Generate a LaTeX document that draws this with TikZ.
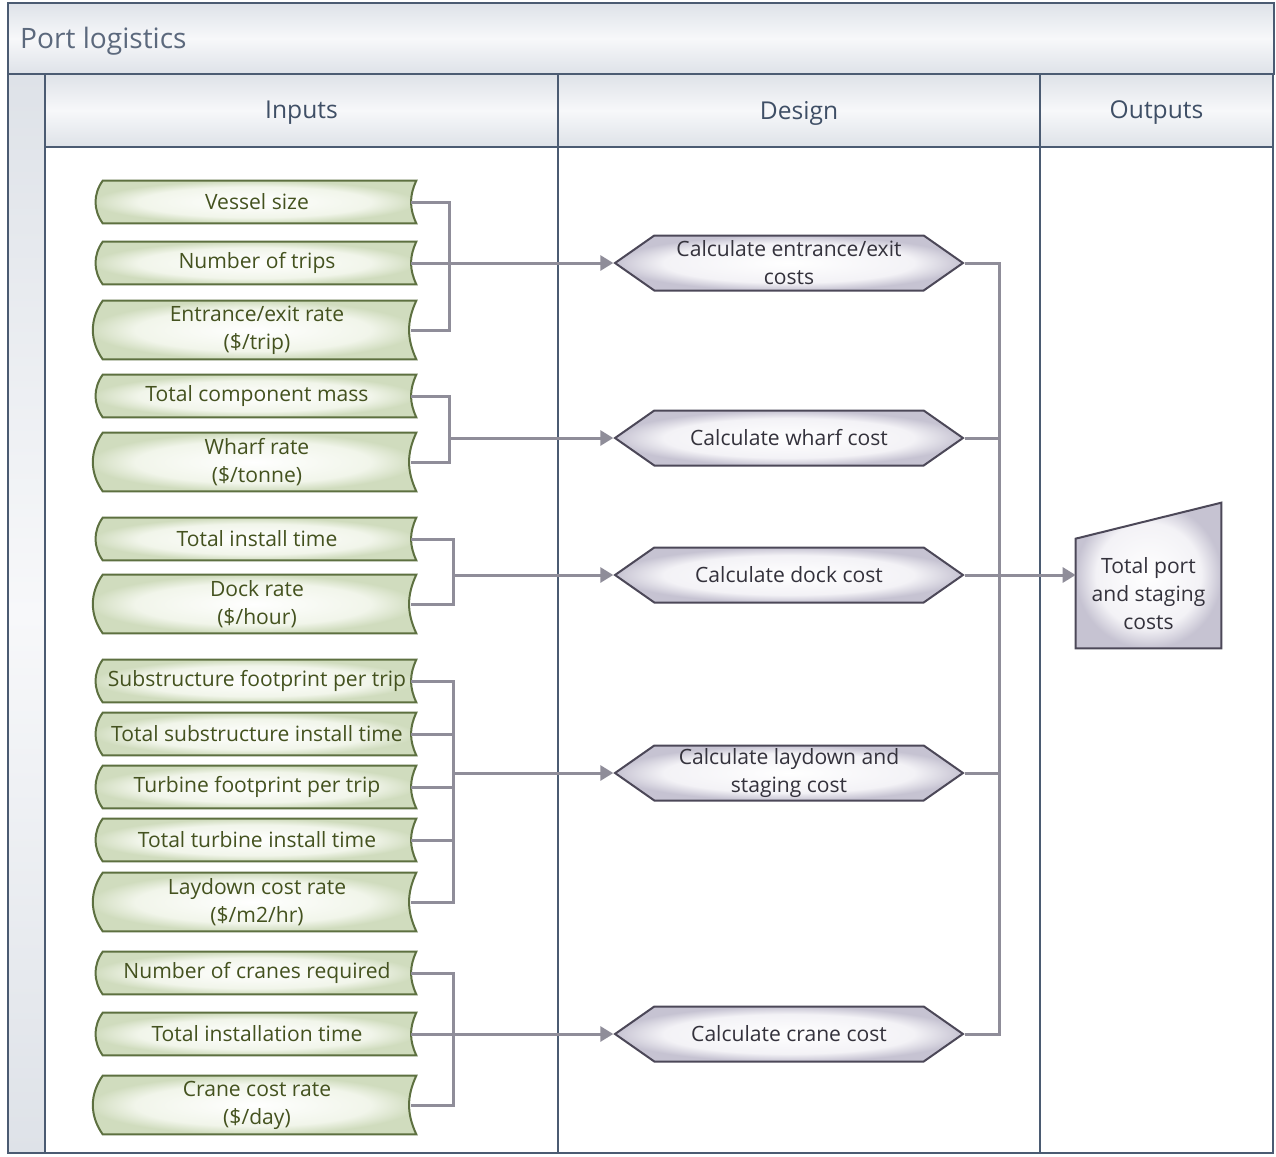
\documentclass[tikz,border=0pt]{standalone}
\usepackage{fontspec}
\setmainfont{Open Sans}
\usepackage{tikz}
\usetikzlibrary{positioning}
\usetikzlibrary{calc}
\usetikzlibrary{backgrounds}
\usetikzlibrary{shapes.symbols}
\usetikzlibrary{arrows.meta}
\definecolor{framecol}{HTML}{4B5B72}
\definecolor{headfill}{HTML}{F7F8FA}
\definecolor{headedge}{HTML}{DEE2E8}
\definecolor{headtext}{HTML}{3F4F66}
\definecolor{inborder}{HTML}{5D7040}
\definecolor{inmid}{HTML}{F1F5EA}
\definecolor{inedge}{HTML}{D0DCBE}
\definecolor{intext}{HTML}{44521F}
\definecolor{hexborder}{HTML}{4C4858}
\definecolor{hexmid}{HTML}{F3F2F6}
\definecolor{hexedge}{HTML}{C6C3D2}
\definecolor{hextext}{HTML}{34323C}
\definecolor{linkcol}{HTML}{8F8D99}
\pgfdeclareradialshading{greenglow}{\pgfpoint{0bp}{0bp}}{%
    color(0bp)=(white); color(18bp)=(inmid); color(25bp)=(inedge); color(50bp)=(inedge)}
\pgfdeclareradialshading{greyglow}{\pgfpoint{0bp}{0bp}}{%
    color(0bp)=(white); color(18bp)=(hexmid); color(25bp)=(hexedge); color(50bp)=(hexedge)}
\tikzset{
    port diagram/.style={
            x=0.02cm,y=-0.02cm,
            inbox/.style={minimum width=6.16cm,minimum height=0.84cm,inner sep=0pt,
                align=center,text=intext,font=\fontsize{12}{16}\selectfont},
            inboxtall/.style={inbox,minimum height=1.16cm},
            inshape/.style={draw=inborder,line width=0.04cm,shading=greenglow},
            calcbox/.style={signal,signal to=west and east,signal pointer angle=70,
                draw=hexborder,line width=0.04cm,shading=greyglow,
                minimum width=6.96cm,minimum height=1.1cm,inner sep=0pt,
                align=center,text=hextext,font=\fontsize{12}{16}\selectfont},
            outbox/.style={minimum width=2.9cm,minimum height=2.18cm,inner sep=0pt,
                align=center,text=hextext,font=\fontsize{12}{16}\selectfont},
            outshape/.style={draw=hexborder,line width=0.04cm,shading=greyglow},
            headcell/.style={draw=framecol,line width=0.04cm,top color=headedge,
                bottom color=headedge,middle color=headfill},
            bodycell/.style={draw=framecol,line width=0.04cm,fill=white},
            link/.style={draw=linkcol,line width=0.06cm},
            arrow/.style={link,-{Triangle[length=0.26cm,width=0.3cm]}}
        }
    }
\begin{document}
\begin{tikzpicture}[port diagram]
    \useasboundingbox (0,0) rectangle (1276,1157);
    % swimlane frame
    \begin{scope}[on background layer]
        \draw [headcell] (8,3) rectangle (1274,74);
        \draw [headcell] (8,74) rectangle (45,1153);
        \draw [headcell] (45,74) rectangle (558,147);
        \draw [headcell] (558,74) rectangle (1040,147);
        \draw [headcell] (1040,74) rectangle (1273,147);
        \draw [bodycell] (45,147) rectangle (558,1153);
        \draw [bodycell] (558,147) rectangle (1040,1153);
        \draw [bodycell] (1040,147) rectangle (1273,1153);
    \end{scope}
    \node (title) [anchor=west,text=headtext!85,font=\fontsize{16}{18}\selectfont] at (14,41) {Port logistics};
    \node (inputs) [text=headtext,font=\fontsize{14}{16}\selectfont] at (301.5,113) {Inputs};
    \node (design) [text=headtext,font=\fontsize{14}{16}\selectfont] at (799,113) {Design};
    \node (outputs) [text=headtext,font=\fontsize{14}{16}\selectfont] at (1156.5,113) {Outputs};

    % inputs
    \node (v1) [inbox] at (257,202) {Vessel size};
    \node (v2) [inbox] at (257,263) {Number of trips};
    \node (v3) [inboxtall] at (257,330) {Entrance/exit rate\\(\$/trip)};
    \node (w1) [inbox] at (257,396) {Total component mass};
    \node (w2) [inboxtall] at (257,462) {Wharf rate\\(\$/tonne)};
    \node (d1) [inbox] at (257,539) {Total install time};
    \node (d2) [inboxtall] at (257,604) {Dock rate\\(\$/hour)};
    \node (l1) [inbox] at (257,681) {Substructure footprint per trip};
    \node (l2) [inbox] at (257,734) {Total substructure install time};
    \node (l3) [inbox] at (257,787) {Turbine footprint per trip};
    \node (l4) [inbox] at (257,840) {Total turbine install time};
    \node (l5) [inboxtall] at (257,902) {Laydown cost rate\\(\$/m2/hr)};
    \node (c1) [inbox] at (257,973) {Number of cranes required};
    \node (c2) [inbox] at (257,1034) {Total installation time};
    \node (c3) [inboxtall] at (257,1105) {Crane cost rate\\(\$/day)};

    % design steps
    \node (h1) [calcbox] at (789,263) {Calculate entrance/exit\\costs};
    \node (h2) [calcbox] at (789,438) {Calculate wharf cost};
    \node (h3) [calcbox] at (789,575) {Calculate dock cost};
    \node (h4) [calcbox] at (789,773) {Calculate laydown and\\staging cost};
    \node (h5) [calcbox] at (789,1034) {Calculate crane cost};

    % output
    \node (tot) [outbox] at (1148.5,593.5) {Total port\\and staging\\costs};

    \begin{scope}[on background layer]
        \foreach \n in {v1,v2,v3,w1,w2,d1,d2,l1,l2,l3,l4,l5,c1,c2,c3}
            \draw [inshape] (\n.north west) to[bend right=35] (\n.south west)
                -- ($(\n.south east)+(5,0)$) to[bend left=25] ($(\n.north east)+(5,0)$) -- cycle;
        \draw [outshape] (tot.south west) -- (tot.south east)
            -- ($(tot.north east)+(0,-36)$) -- (tot.north west) -- cycle;
    \end{scope}

    % bus points
    \coordinate (b1) at (449,263);
    \coordinate (b2) at (449,438);
    \coordinate (b3) at (453,575);
    \coordinate (b4) at (453,773);
    \coordinate (b5) at (453,1034);
    \coordinate (ob) at (999,575);

    \draw [link] (v1.east) -| (b1) |- (v3.east);
    \draw [arrow] (v2.east) -- (h1.west);
    \draw [link] (w1.east) -| (b2) |- (w2.east);
    \draw [arrow] (b2) -- (h2.west);
    \draw [link] (d1.east) -| (b3) |- (d2.east);
    \draw [arrow] (b3) -- (h3.west);
    \draw [link] (l1.east) -| (b4) |- (l5.east);
    \foreach \n in {l2,l3,l4}
        \draw [link] (\n.east) -- (\n.east -| b4);
    \draw [arrow] (b4) -- (h4.west);
    \draw [link] (c1.east) -| (b5) |- (c3.east);
    \draw [arrow] (c2.east) -- (h5.west);

    \draw [link] (h1.east) -| (ob) |- (h5.east);
    \draw [link] (h2.east) -- (h2.east -| ob);
    \draw [link] (h4.east) -- (h4.east -| ob);
    \draw [arrow] (h3.east) -- (tot.west |- h3.east);
\end{tikzpicture}
\end{document}
